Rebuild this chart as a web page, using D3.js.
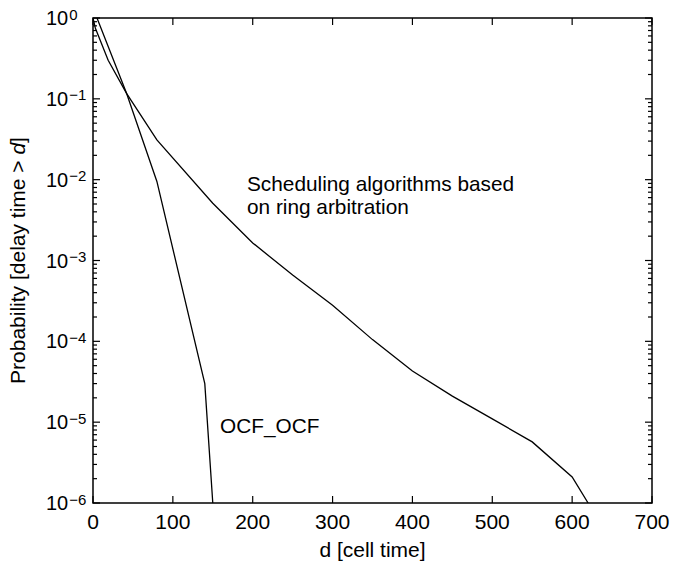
<!DOCTYPE html>
<html>
<head>
<meta charset="utf-8">
<script src="https://cdn.jsdelivr.net/npm/d3@7"></script>
<style>
  html, body { margin: 0; padding: 0; background: #fff; }
  svg { display: block; }
  text { font-family: "Liberation Sans", Arial, Helvetica, sans-serif; fill: #000; }
</style>
</head>
<body>
<svg id="chart" width="673" height="567"></svg>
<script>
// Delay (cell times) at which each curve was sampled
const ringDelay = [0, 3, 19, 42, 80, 150, 200, 250, 300, 350, 400, 450, 500, 550, 600, 620];
// P(delay time > d) for scheduling algorithms based on ring arbitration
const ringProb = [1, 0.745, 0.30, 0.117, 0.031, 0.0051, 0.00165, 6.6e-4, 2.8e-4, 1.05e-4,
                  4.3e-5, 2.1e-5, 1.1e-5, 5.7e-6, 2.1e-6, 1e-6];
// Delay samples and probabilities for OCF_OCF
const ocfDelay = [5, 42, 80, 140, 150];
const ocfProb = [1, 0.117, 0.0095, 3.0e-5, 1e-6];

const xTicks = [0, 100, 200, 300, 400, 500, 600, 700];
const yExponents = [0, -1, -2, -3, -4, -5, -6];

const svg = d3.select("#chart");
const plotL = 93, plotR = 652, plotT = 18, plotB = 503;

const x = d3.scaleLinear().domain([0, 700]).range([plotL, plotR]);
const y = d3.scaleLog().domain([1e-6, 1]).range([plotB, plotT]);

svg.append("defs").append("clipPath").attr("id", "plotClip")
  .append("rect").attr("x", plotL).attr("y", plotT)
  .attr("width", plotR - plotL).attr("height", plotB - plotT);

const majorLen = 7, minorLen = 4;
const axisG = svg.append("g").attr("stroke", "#000").attr("stroke-width", 1.2);

// x ticks, inward on bottom and top
xTicks.forEach(t => {
  const px = x(t);
  axisG.append("line").attr("x1", px).attr("x2", px).attr("y1", plotB).attr("y2", plotB - majorLen);
  axisG.append("line").attr("x1", px).attr("x2", px).attr("y1", plotT).attr("y2", plotT + majorLen);
});

// y ticks: decades and minor ticks, inward on left and right
yExponents.forEach(e => {
  const py = y(Math.pow(10, e));
  axisG.append("line").attr("x1", plotL).attr("x2", plotL + majorLen).attr("y1", py).attr("y2", py);
  axisG.append("line").attr("x1", plotR).attr("x2", plotR - majorLen).attr("y1", py).attr("y2", py);
  if (e < 0) {
    for (let m = 2; m <= 9; m++) {
      const pm = y(m * Math.pow(10, e));
      axisG.append("line").attr("x1", plotL).attr("x2", plotL + minorLen).attr("y1", pm).attr("y2", pm);
      axisG.append("line").attr("x1", plotR).attr("x2", plotR - minorLen).attr("y1", pm).attr("y2", pm);
    }
  }
});

// frame
svg.append("rect").attr("x", plotL).attr("y", plotT)
  .attr("width", plotR - plotL).attr("height", plotB - plotT)
  .attr("fill", "none").attr("stroke", "#000").attr("stroke-width", 1.5);

// x tick labels
svg.append("g").selectAll("text").data(xTicks).join("text")
  .attr("x", d => x(d)).attr("y", plotB + 26)
  .attr("text-anchor", "middle").attr("font-size", 21)
  .text(d => d);

// y tick labels as 10 with superscript exponent, left-aligned
const yl = svg.append("g").selectAll("text").data(yExponents).join("text")
  .attr("x", 46).attr("y", d => y(Math.pow(10, d)) + 7)
  .attr("text-anchor", "start").attr("font-size", 20);
yl.append("tspan").text("10");
yl.append("tspan").attr("dy", -5.5).attr("dx", 1).attr("font-size", 15)
  .text(d => d === 0 ? "0" : "\u2212" + Math.abs(d));

// axis titles
svg.append("text").attr("x", (plotL + plotR) / 2).attr("y", 557)
  .attr("text-anchor", "middle").attr("font-size", 21)
  .text("d [cell time]");

const yt = svg.append("text")
  .attr("transform", `translate(25,${(plotT + plotB) / 2}) rotate(-90)`)
  .attr("text-anchor", "middle").attr("font-size", 21);
yt.append("tspan").text("Probability [delay time > ");
yt.append("tspan").attr("font-style", "italic").text("d");
yt.append("tspan").text("]");

// curves
const line = d3.line().x(d => x(d[0])).y(d => y(d[1]));
const plot = svg.append("g").attr("clip-path", "url(#plotClip)");
plot.append("path").datum(d3.zip(ringDelay, ringProb))
  .attr("d", line).attr("fill", "none").attr("stroke", "#000").attr("stroke-width", 1.3);
plot.append("path").datum(d3.zip(ocfDelay, ocfProb))
  .attr("d", line).attr("fill", "none").attr("stroke", "#000").attr("stroke-width", 1.3);

// annotations
svg.append("text").attr("x", 247).attr("y", 191).attr("font-size", 20.8)
  .text("Scheduling algorithms based");
svg.append("text").attr("x", 247).attr("y", 214).attr("font-size", 20.8)
  .text("on ring arbitration");
svg.append("text").attr("x", 220).attr("y", 433).attr("font-size", 20.8)
  .text("OCF_OCF");
</script>
</body>
</html>
